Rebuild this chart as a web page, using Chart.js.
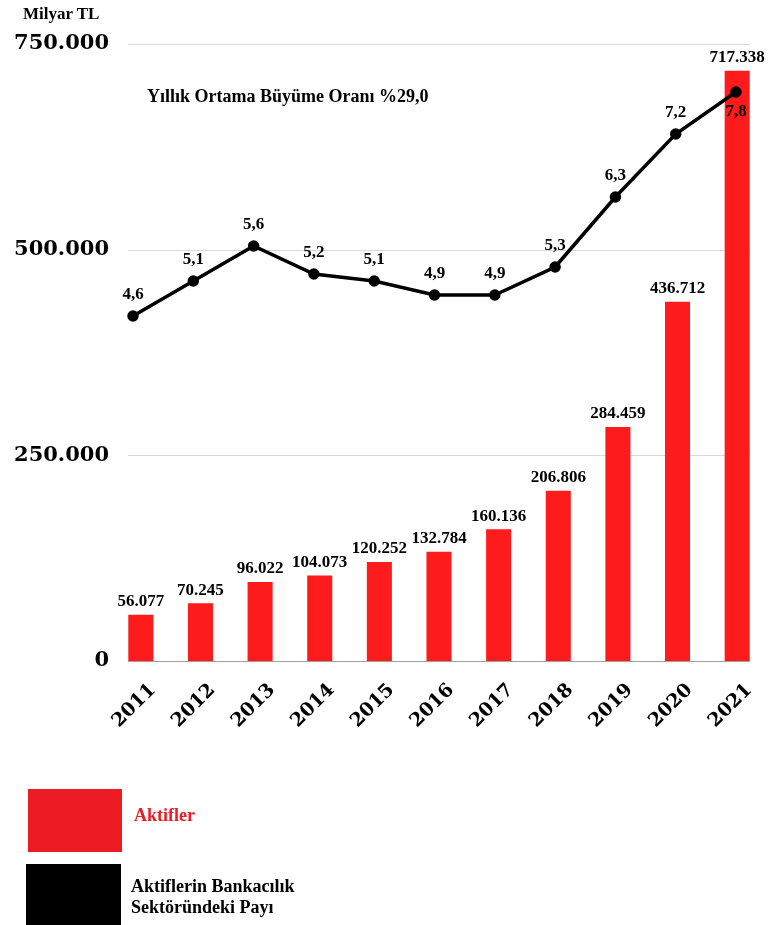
<!DOCTYPE html>
<html>
<head>
<meta charset="utf-8">
<script src="https://cdn.jsdelivr.net/npm/chart.js@4"></script>
<style>
  body { margin: 0; background: #fff; }
  #wrap { position: relative; width: 768px; height: 925px; }
  .txt { position: absolute; font-family: "Liberation Serif", serif; font-weight: bold; white-space: nowrap; color: #000; }
  .box { position: absolute; }
</style>
</head>
<body>
<div id="wrap">
  <canvas id="barChart"></canvas>
  <div class="txt" style="left:23px; top:4px; font-size:17px;">Milyar TL</div>
  <div class="txt" style="left:147px; top:86px; font-size:18px;">Yıllık Ortama Büyüme Oranı %29,0</div>
  <div class="box" style="left:28px; top:789px; width:94px; height:63px; background:#ED1C24;"></div>
  <div class="txt" style="left:134px; top:805px; font-size:18px; color:#ED1C24;">Aktifler</div>
  <div class="box" style="left:26px; top:864px; width:95px; height:61px; background:#000;"></div>
  <div class="txt" style="left:131px; top:876px; font-size:18px; line-height:21px;">Aktiflerin Bankacılık<br>Sektöründeki Payı</div>
</div>
<script>
var years = ["2011", "2012", "2013", "2014", "2015", "2016", "2017", "2018", "2019", "2020", "2021"];
// Aktifler (milyar TL)
var aktifler = [56077, 70245, 96022, 104073, 120252, 132784, 160136, 206806, 284459, 436712, 717338];
// Aktiflerin bankacılık sektöründeki payı (%)
var pay = [4.6, 5.1, 5.6, 5.2, 5.1, 4.9, 4.9, 5.3, 6.3, 7.2, 7.8];
var yTicks = [0, 250000, 500000, 750000];

function binlik(v) {
  return String(v).replace(/\B(?=(\d{3})+(?!\d))/g, ".");
}
function virgul(v) {
  return v.toFixed(1).replace(".", ",");
}

// yatay çizgiler, grafik alanından biraz içeride
var gridPlugin = {
  id: "gridLines",
  beforeDatasetsDraw: function (chart) {
    var ctx = chart.ctx;
    var y = chart.scales.y;
    var area = chart.chartArea;
    ctx.save();
    yTicks.forEach(function (t) {
      var py = Math.round(y.getPixelForValue(t)) + 0.5;
      ctx.strokeStyle = t === 0 ? "#a0a0a0" : "#d9d9d9";
      ctx.lineWidth = 1;
      ctx.beginPath();
      ctx.moveTo(area.left + 17, py);
      ctx.lineTo(area.right - 17, py);
      ctx.stroke();
    });
    ctx.restore();
  },
};

// değer etiketleri
var labelPlugin = {
  id: "valueLabels",
  afterDatasetsDraw: function (chart) {
    var ctx = chart.ctx;
    ctx.save();
    ctx.fillStyle = "#000";
    ctx.textAlign = "center";
    ctx.textBaseline = "middle";
    ctx.font = "bold 17px 'Liberation Serif'";
    chart.getDatasetMeta(0).data.forEach(function (bar, i) {
      ctx.fillText(binlik(aktifler[i]), bar.x, bar.y - 13);
    });
    chart.getDatasetMeta(1).data.forEach(function (pt, i) {
      var dy = i === pay.length - 1 ? 20 : -21;
      ctx.fillText(virgul(pay[i]), pt.x, pt.y + dy);
    });
    ctx.restore();
  },
};

var ctx = document.getElementById("barChart").getContext("2d");
new Chart(ctx, {
  type: "bar",
  data: {
    labels: years,
    datasets: [
      {
        type: "bar",
        data: aktifler,
        backgroundColor: "#FE1B1B",
        barPercentage: 0.7,
        categoryPercentage: 0.6,
        grouped: false,
        order: 1,
      },
      {
        type: "line",
        data: pay.map(function (v, i) { return { x: i, y: v }; }),
        xAxisID: "x2",
        yAxisID: "y2",
        borderColor: "#000",
        borderWidth: 3.5,
        pointRadius: 4,
        pointBackgroundColor: "#000",
        pointBorderColor: "#000",
        tension: 0,
        order: 0,
      },
    ],
  },
  options: {
    responsive: true,
    maintainAspectRatio: false,
    animation: false,
    layout: { autoPadding: false, padding: { top: 44, right: 1, left: 0, bottom: 0 } },
    plugins: {
      legend: { display: false },
      tooltip: { enabled: false },
    },
    scales: {
      x: {
        grid: { display: false, drawTicks: false },
        border: { display: false },
        ticks: {
          color: "#000",
          font: { family: "DejaVu Serif", weight: "bold", size: 19 },
          minRotation: 45,
          maxRotation: 45,
          padding: 18,
          labelOffset: 12,
        },
        afterFit: function (scale) {
          scale.height = 264;
          scale.paddingLeft = 0;
          scale.paddingRight = 0;
        },
      },
      x2: {
        type: "linear",
        display: false,
        offset: false,
        min: -0.365,
        max: 10.514,
      },
      y: {
        min: 0,
        max: 750000,
        grid: { display: false, drawTicks: false },
        border: { display: false },
        ticks: {
          stepSize: 250000,
          color: "#000",
          font: { family: "DejaVu Serif", weight: "bold", size: 21 },
          padding: 2,
          callback: function (v) { return binlik(v); },
        },
        afterFit: function (scale) { scale.width = 111; },
      },
      y2: {
        display: false,
        min: -0.329,
        max: 8.486,
      },
    },
  },
  plugins: [gridPlugin, labelPlugin],
});
</script>
</body>
</html>
